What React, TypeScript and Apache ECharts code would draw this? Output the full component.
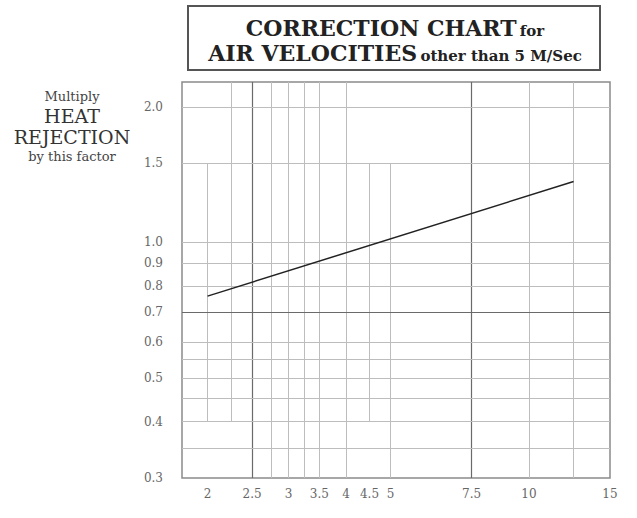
import React, { useEffect, useRef } from "react";
import * as echarts from "echarts";

const xTickLabels = [2, 2.5, 3, 3.5, 4, 4.5, 5, 7.5, 10, 15];
const yTickLabels = [0.3, 0.4, 0.5, 0.6, 0.7, 0.8, 0.9, 1.0, 1.5, 2.0];
const velocity = [2, 12.5];
const factor = [0.76, 1.365];
const vGridFull = [2.5, 2.75, 3, 3.25, 3.5, 4, 7.5, 10, 12.5];
const vGridDark = [2.5, 7.5];
const hGrid = [2.0, 1.5, 1.0, 0.9, 0.8, 0.7, 0.6, 0.55, 0.5, 0.45, 0.4, 0.35];
const hGridDark = [0.7];

const SERIF = "'DejaVu Serif', 'Liberation Serif', serif";

export default function App() {
  const ref = useRef<HTMLDivElement>(null);
  useEffect(() => {
    if (!ref.current) return;
    const chart = echarts.init(ref.current, null, { renderer: "svg" });
    const light = { color: "#bdbdbd", width: 1, type: "solid" as const };
    const dark = { color: "#6a6a6a", width: 1.2, type: "solid" as const };
    const markData: any[] = [];
    vGridFull.forEach((v) =>
      markData.push({ xAxis: v, lineStyle: vGridDark.includes(v) ? dark : light })
    );
    markData.push([{ coord: [2, 1.5], lineStyle: light }, { coord: [2, 0.4] }]);
    markData.push([{ coord: [2.25, 2.27], lineStyle: light }, { coord: [2.25, 0.4] }]);
    markData.push([{ coord: [4.5, 1.5], lineStyle: light }, { coord: [4.5, 0.4] }]);
    markData.push([{ coord: [5, 1.5], lineStyle: light }, { coord: [5, 0.3] }]);
    hGrid.forEach((v) =>
      markData.push({ yAxis: v, lineStyle: hGridDark.includes(v) ? dark : light })
    );
    const titleStyle = (size: number) => ({
      fontFamily: SERIF,
      fontWeight: "bold",
      fontSize: size,
      fill: "#222",
      lineHeight: 25,
      verticalAlign: "bottom",
    });
    chart.setOption({
      animation: false,
      backgroundColor: "#ffffff",
      grid: {
        left: 182,
        right: 27,
        top: 82,
        bottom: 40,
        show: true,
        borderColor: "#8a8a8a",
        borderWidth: 1.5,
        backgroundColor: "transparent",
      },
      xAxis: {
        type: "log",
        logBase: 10,
        min: 1.76,
        max: 15,
        axisLine: { show: false },
        axisTick: { show: false },
        splitLine: { show: false },
        minorSplitLine: { show: false },
        axisLabel: {
          customValues: xTickLabels,
          hideOverlap: false,
          formatter: (v: number) => String(v),
          color: "#666",
          fontFamily: SERIF,
          fontSize: 12,
          margin: 10,
        },
      },
      yAxis: {
        type: "log",
        logBase: 10,
        min: 0.3,
        max: 2.27,
        axisLine: { show: false },
        axisTick: { show: false },
        splitLine: { show: false },
        axisLabel: {
          customValues: yTickLabels,
          hideOverlap: false,
          formatter: (v: number) => v.toFixed(1),
          color: "#666",
          fontFamily: SERIF,
          fontSize: 12,
          margin: 19,
        },
      },
      series: [
        {
          type: "line",
          data: velocity.map((x, i) => [x, factor[i]]),
          symbol: "none",
          lineStyle: { color: "#222", width: 1.5 },
          z: 5,
          markLine: {
            silent: true,
            symbol: ["none", "none"],
            label: { show: false },
            data: markData,
            z: 1,
          },
        },
      ],
      graphic: [
        {
          type: "rect",
          shape: { x: 188, y: 6, width: 412, height: 64 },
          style: { fill: "none", stroke: "#555", lineWidth: 2 },
        },
        {
          type: "text",
          x: 395,
          y: 38.5,
          style: {
            text:
              "{a|CORRECTION CHART} {b|for}\n{a|AIR VELOCITIES} {b|other than 5 M/Sec}",
            align: "center",
            verticalAlign: "middle",
            rich: {
              a: titleStyle(22),
              b: titleStyle(15),
            },
          },
        },
        {
          type: "text",
          x: 72,
          y: 126,
          style: {
            text: "{s|Multiply}\n{b|HEAT}\n{b|REJECTION}\n{s|by this factor}",
            align: "center",
            verticalAlign: "middle",
            rich: {
              s: { fontFamily: SERIF, fontSize: 13, fill: "#444", lineHeight: 18, align: "center" },
              b: { fontFamily: SERIF, fontSize: 19, fill: "#333", lineHeight: 21, align: "center" },
            },
          },
        },
      ],
    });
    return () => chart.dispose();
  }, []);
  return (
    <div
      ref={ref}
      style={{ position: "fixed", left: 0, top: 0, width: 637, height: 518 }}
    />
  );
}
